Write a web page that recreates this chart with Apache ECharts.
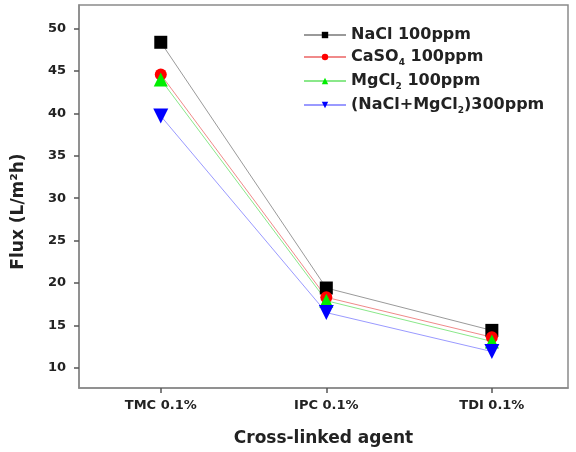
<!DOCTYPE html>
<html>
<head>
<meta charset="utf-8">
<script src="https://cdn.jsdelivr.net/npm/echarts@6/dist/echarts.min.js"></script>
<style>
html,body{margin:0;padding:0;background:#fff;}
#chart{width:576px;height:452px;}
</style>
</head>
<body>
<div id="chart"></div>
<script>
var categories = ['TMC 0.1%', 'IPC 0.1%', 'TDI 0.1%'];
var xPositions = [1, 2, 3];
var yTicks = [10, 15, 20, 25, 30, 35, 40, 45, 50];
var nacl = [48.4, 19.4, 14.4];
var caso4 = [44.6, 18.3, 13.6];
var mgcl2 = [44.0, 17.9, 13.1];
var mixed = [39.7, 16.5, 11.9];
var seriesNames = ['NaCl 100ppm', 'CaSO4 100ppm', 'MgCl2 100ppm', '(NaCl+MgCl2)300ppm'];

function pairs(vals) {
  return vals.map(function (v, i) { return [xPositions[i], v]; });
}

var font = 'DejaVu Sans';
var chart = echarts.init(document.getElementById('chart'));

function mk(name, vals, color, lineColor, symbol, size, rotate) {
  return {
    name: name,
    type: 'line',
    data: pairs(vals),
    symbol: symbol,
    symbolSize: size,
    symbolRotate: rotate || 0,
    lineStyle: { color: lineColor, width: 1 },
    itemStyle: { color: color },
    z: 3
  };
}

var legendLabels = {
  'NaCl 100ppm': 'NaCl 100ppm',
  'CaSO4 100ppm': 'CaSO{sub|4} 100ppm',
  'MgCl2 100ppm': 'MgCl{sub|2} 100ppm',
  '(NaCl+MgCl2)300ppm': '(NaCl+MgCl{sub|2})300ppm'
};

chart.setOption({
  animation: false,
  backgroundColor: '#ffffff',
  grid: { left: 79, top: 5, right: 8, bottom: 62, show: true, borderColor: '#8a8a8a', borderWidth: 1.5 },
  legend: {
    orient: 'vertical',
    left: 298,
    top: 22,
    itemGap: 6,
    itemWidth: 42,
    itemHeight: 8,
    data: seriesNames,
    formatter: function (n) { return legendLabels[n]; },
    textStyle: {
      fontFamily: font, fontWeight: 'bold', fontSize: 16, color: '#222',
      rich: {
        sub: { fontFamily: font, fontWeight: 'bold', fontSize: 9, color: '#222', padding: [11, 0, 0, 0] }
      }
    }
  },
  xAxis: {
    type: 'value',
    min: 0.506,
    max: 3.46,
    name: 'Cross-linked agent',
    nameLocation: 'middle',
    nameGap: 42,
    nameTextStyle: { fontFamily: font, fontWeight: 'bold', fontSize: 17, color: '#222' },
    axisLine: { show: true, lineStyle: { color: '#8a8a8a', width: 1.5 } },
    axisTick: { show: true, customValues: xPositions, length: 5, lineStyle: { color: '#555', width: 1.5 } },
    axisLabel: {
      customValues: xPositions,
      formatter: function (v) { return categories[Math.round(v) - 1]; },
      fontFamily: font, fontWeight: 'bold', fontSize: 13, color: '#222', margin: 11
    },
    splitLine: { show: false }
  },
  yAxis: {
    type: 'value',
    min: 7.6,
    max: 52.8,
    name: 'Flux (L/m\u00B2h)',
    nameLocation: 'middle',
    nameGap: 52,
    nameTextStyle: { fontFamily: font, fontWeight: 'bold', fontSize: 17, color: '#222', padding: [0, 30, 0, 0] },
    axisLine: { show: true, lineStyle: { color: '#8a8a8a', width: 1.5 } },
    axisTick: { show: true, customValues: yTicks, length: 5, lineStyle: { color: '#555', width: 1.5 } },
    axisLabel: {
      customValues: yTicks,
      fontFamily: font, fontWeight: 'bold', fontSize: 13, color: '#222', margin: 13
    },
    splitLine: { show: false }
  },
  series: [
    mk(seriesNames[0], nacl, '#000000', '#9a9a9a', 'rect', 13),
    mk(seriesNames[1], caso4, '#ff0000', '#f08a8a', 'circle', 12),
    mk(seriesNames[2], mgcl2, '#00ee00', '#8ae88a', 'triangle', 14),
    mk(seriesNames[3], mixed, '#0000ff', '#9a9aff', 'triangle', 15, 180)
  ]
});
</script>
</body>
</html>
